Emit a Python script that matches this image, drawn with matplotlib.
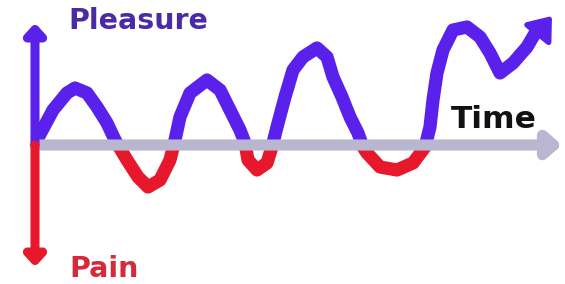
import matplotlib.pyplot as plt
from matplotlib.patches import Rectangle

# hand-drawn mood curve (x = time, y = pleasure(+)/pain(-))
time = [38, 53, 67, 75, 87, 97, 107, 115, 127, 138, 148, 160, 170, 175, 180,
        190, 207, 220, 230, 240, 245, 248, 257, 267, 272, 277, 285, 293, 303,
        317, 327, 333, 342, 350, 358, 363, 367, 380, 397, 413, 425, 430, 433,
        437, 443, 453, 467, 480, 490, 500, 513, 527, 537]
mood = [7, 35, 52, 57, 52, 38, 22, 5, -15, -32, -42, -35, -15, 5, 28,
        52, 65, 55, 35, 15, 2, -15, -25, -18, -2, 18, 48, 75, 88,
        97, 88, 68, 48, 28, 12, -2, -8, -22, -25, -18, -2, 18, 45,
        72, 95, 115, 118, 108, 92, 72, 82, 98, 115]
arrow_tip = (552, 129)

axis_start, axis_end = 35, 562
pleasure_top, pain_bottom = 122, -122

blue = "#5a20ec"
red = "#e8182c"
gray = "#b9b7cf"

fig = plt.figure(figsize=(5.65, 2.84), dpi=100)
ax = fig.add_axes([0, 0, 1, 1])
ax.set_xlim(0, 565)
ax.set_ylim(-139, 145)
ax.axis("off")

# time axis
ax.annotate("", xy=(axis_end, 0), xytext=(axis_start, 0),
            arrowprops=dict(arrowstyle="-|>,head_length=0.8,head_width=0.7",
                            color=gray, lw=8, capstyle="round",
                            joinstyle="round", shrinkA=0, shrinkB=0))

# pleasure / pain axis
for tip, col in [(pleasure_top, blue), (pain_bottom, red)]:
    ax.annotate("", xy=(axis_start, tip), xytext=(axis_start, 0),
                arrowprops=dict(arrowstyle="-|>,head_length=0.6,head_width=0.55",
                                color=col, lw=6.5, joinstyle="round",
                                shrinkA=0, shrinkB=0))

# curve: blue above the time axis, red below
above = Rectangle((0, 0), 600, 300, transform=ax.transData)
below = Rectangle((0, -300), 600, 300, transform=ax.transData)
kw = dict(lw=9.5, solid_capstyle="round", solid_joinstyle="round")
ln_b, = ax.plot(time, mood, color=blue, **kw)
ln_b.set_clip_path(above)
ln_r, = ax.plot(time, mood, color=red, **kw)
ln_r.set_clip_path(below)

ax.annotate("", xy=arrow_tip, xytext=(time[-2], mood[-2]),
            arrowprops=dict(arrowstyle="-|>,head_length=1.3,head_width=1.0",
                            color=blue, lw=4, joinstyle="round",
                            shrinkA=0, shrinkB=0))

ax.text(138, 124, "Pleasure", color="#4a2aa6", fontsize=20.5, fontweight="bold",
        ha="center", va="center")
ax.text(104, -124, "Pain", color="#d42a3a", fontsize=20.5, fontweight="bold",
        ha="center", va="center")
ax.text(494, 26, "Time", color="#111111", fontsize=22.5, fontweight="bold",
        ha="center", va="center")

fig.savefig("out.png", dpi=100, facecolor="white")
